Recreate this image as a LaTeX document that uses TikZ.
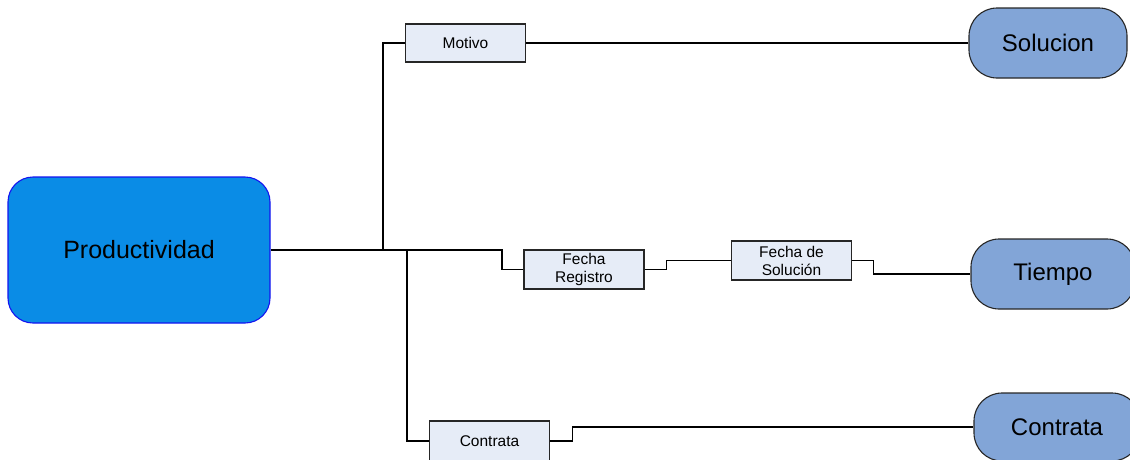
\documentclass[tikz,border=0pt]{standalone}
\usepackage{fontspec}
\setmainfont{Liberation Sans}
\definecolor{figP}{HTML}{0A8CE6}
\definecolor{figPb}{HTML}{1414F0}
\definecolor{figC}{HTML}{E6ECF7}
\definecolor{figR}{HTML}{82A5D7}

\begin{document}
\begin{tikzpicture}[x=1pt,y=-1pt,line width=1.1pt,
  caja/.style={draw=black!85,fill=figC,minimum width=120pt,minimum height=38pt,
    inner sep=0pt,align=center,font=\fontsize{15.5}{18}\selectfont},
  meta/.style={draw=black!85,fill=figR,rounded corners=28pt,minimum width=158pt,
    minimum height=70pt,inner sep=0pt,font=\fontsize{24}{28}\selectfont}]
\useasboundingbox (0,0) rectangle (1130,459);
% Nodo central
\node[draw=figPb,fill=figP,rounded corners=25pt,minimum width=262pt,minimum height=146pt,
  font=\fontsize{25}{30}\selectfont] (prod) at (139,250) {Productividad};
% Atributos
\node[caja] (motivo) at (465.5,43) {Motivo};
\node[caja,minimum height=39pt] (freg) at (584,269.5) {Fecha\\Registro};
\node[caja,minimum height=39pt] (fsol) at (791.5,260.5) {Fecha de\\Solución};
\node[caja,minimum height=40pt] (contr) at (489.5,441) {Contrata};
% Metas
\node[meta] (solucion) at (1048,43) {Solucion};
\node[meta,minimum width=164pt] (tiempo) at (1053,274) {Tiempo};
\node[meta,minimum width=166pt,minimum height=68pt] (contrata) at (1057,427) {Contrata};
% Conectores
\coordinate (r1) at (383,250);
\coordinate (r2) at (407,250);
\coordinate (r3) at (502,250);
\draw (prod.east) -- (r3) |- (freg.west);
\draw (r1) |- (motivo.west);
\draw (r2) |- (contr.west);
\draw (motivo.east) -- (solucion.west);
\draw (freg.east) -- ++(22,0) |- (fsol.west);
\draw (fsol.east) -- ++(21,0) |- (tiempo.west);
\draw (contr.east) -- ++(22,0) |- (contrata.west);
\end{tikzpicture}
\end{document}
